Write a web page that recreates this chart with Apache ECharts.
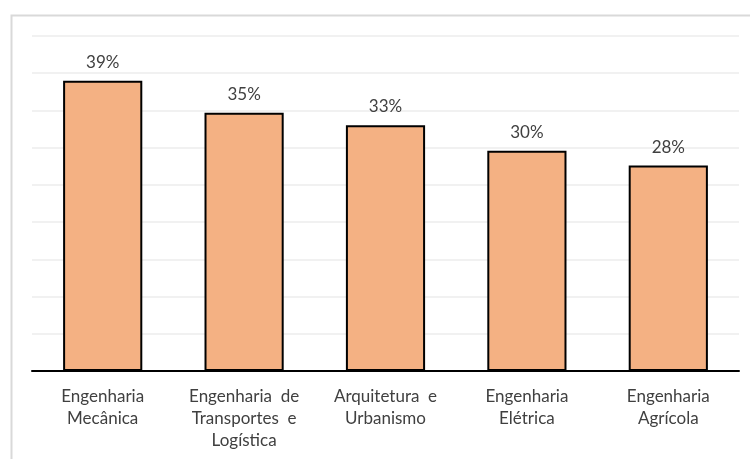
<!DOCTYPE html>
<html><head><meta charset="utf-8">
<script src="https://cdn.jsdelivr.net/npm/echarts@6/dist/echarts.min.js"></script>
<style>html,body{margin:0;padding:0;background:#fff;}#c{width:750px;height:459px;}</style>
</head><body><div id="c"></div>
<script>
const categories = ['Engenharia\nMecânica', 'Engenharia  de\nTransportes  e\nLogística', 'Arquitetura  e\nUrbanismo', 'Engenharia\nElétrica', 'Engenharia\nAgrícola'];
const values = [39, 34.7, 33, 29.6, 27.6];
const axisMin = 0, axisMax = 45, axisStep = 5;

const chart = echarts.init(document.getElementById('c'));
chart.setOption({
  animation: false,
  backgroundColor: '#fff',
  graphic: [{
    type: 'rect', left: 9, top: 13, z: -1,
    shape: { width: 760, height: 460 },
    style: { fill: 'none', stroke: '#d9d9d9', lineWidth: 2 }
  }],
  grid: { left: 32, right: 11, top: 36, bottom: 88 },
  xAxis: {
    type: 'category', data: categories,
    axisLine: { lineStyle: { color: '#000', width: 2 } },
    axisTick: { show: false },
    axisLabel: { color: '#404040', fontFamily: 'Lato', fontSize: 17, lineHeight: 22, margin: 15, interval: 0 }
  },
  yAxis: {
    type: 'value', min: axisMin, max: axisMax, interval: axisStep,
    axisLabel: { show: false }, axisLine: { show: false }, axisTick: { show: false },
    splitLine: { lineStyle: { color: '#ededed', width: 1.5 } }
  },
  series: [{
    type: 'bar', data: values, barCategoryGap: '44%',
    itemStyle: { color: '#f4b183', borderColor: '#000', borderWidth: 2 },
    label: { show: true, position: 'top', distance: 10, color: '#404040', fontFamily: 'Lato', fontSize: 17,
      formatter: p => Math.round(p.value) + '%' }
  }]
});
</script></body></html>
